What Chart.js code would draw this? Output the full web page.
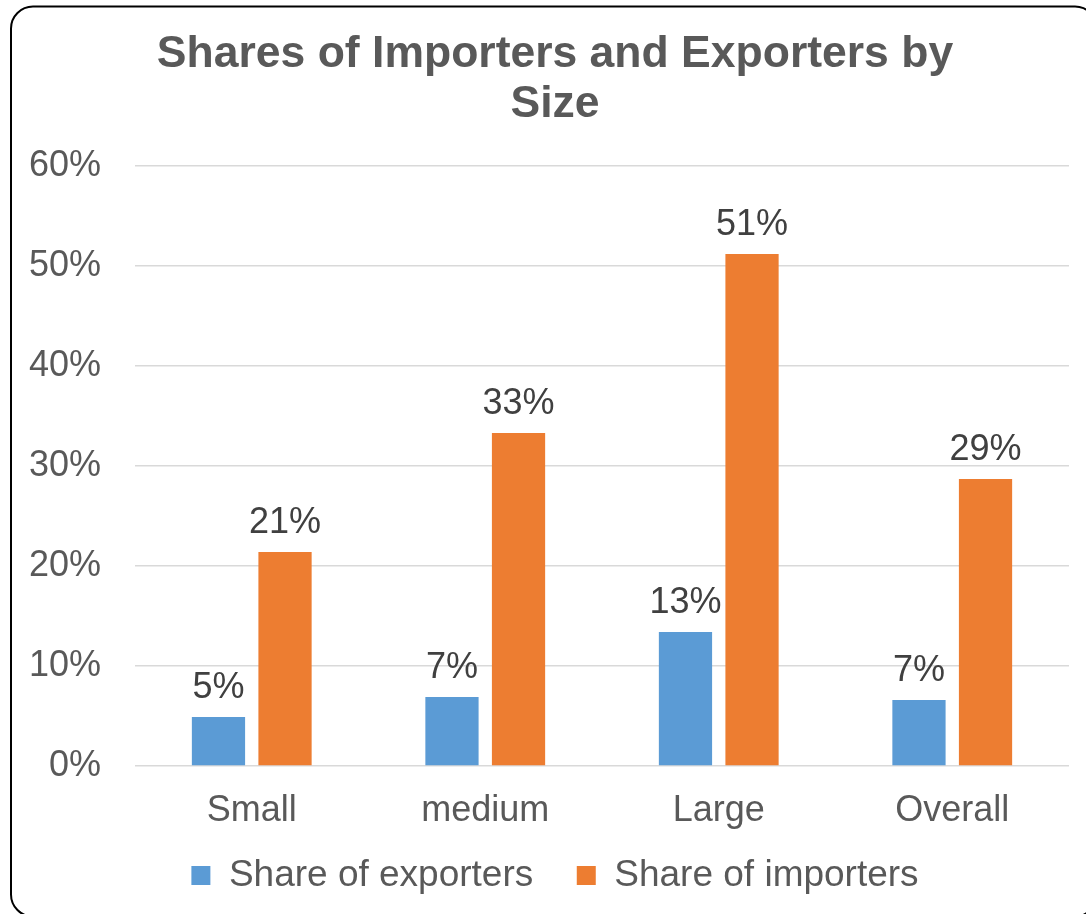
<!DOCTYPE html>
<html>
<head>
<meta charset="utf-8">
<script src="https://cdn.jsdelivr.net/npm/chart.js@4/dist/chart.umd.min.js"></script>
<style>
  html, body { margin: 0; padding: 0; background: #ffffff; overflow: hidden; }
  #wrap { position: relative; width: 1110px; height: 914px; }
  canvas { display: block; }
</style>
</head>
<body>
<div id="wrap"><canvas id="chart" width="1110" height="914"></canvas></div>
<script>
// Firm size groups and the share of firms that trade (percent)
const categories = ['Small', 'medium', 'Large', 'Overall'];
const exporterShares = [4.9, 6.9, 13.4, 6.6];
const importerShares = [21.4, 33.3, 51.2, 28.7];
const seriesNames = ['Share of exporters', 'Share of importers'];
const titleLines = ['Shares of Importers and Exporters by', 'Size'];
const yTickMax = 60;
const yTickStep = 10;

const FONT = '"Liberation Sans", Arial, Helvetica, sans-serif';
Chart.defaults.font.family = FONT;

// White background and the rounded frame around the whole chart
const framePlugin = {
  id: 'frame',
  beforeDraw(chart) {
    const ctx = chart.ctx;
    ctx.save();
    ctx.fillStyle = '#ffffff';
    ctx.fillRect(0, 0, chart.width, chart.height);
    ctx.restore();
  },
  afterDraw(chart) {
    const ctx = chart.ctx;
    ctx.save();
    ctx.strokeStyle = '#000000';
    ctx.lineWidth = 2;
    ctx.beginPath();
    ctx.roundRect(11, 6.5, 1086, 910, 22);
    ctx.stroke();
    ctx.restore();
  }
};

// Value labels above each bar
const valueLabels = {
  id: 'valueLabels',
  afterDatasetsDraw(chart) {
    const ctx = chart.ctx;
    ctx.save();
    ctx.font = '36px ' + FONT;
    ctx.fillStyle = '#404040';
    ctx.textAlign = 'center';
    ctx.textBaseline = 'alphabetic';
    chart.data.datasets.forEach((ds, di) => {
      const meta = chart.getDatasetMeta(di);
      meta.data.forEach((bar, i) => {
        ctx.fillText(Math.round(ds.data[i]) + '%', bar.x, bar.y - 19);
      });
    });
    ctx.restore();
  }
};

// Legend entries, with a little extra room after every entry but the last
function legendLabels(chart) {
  const items = Chart.defaults.plugins.legend.labels.generateLabels(chart);
  items.forEach((item, i) => {
    if (i < items.length - 1) item.text += '\u2002';
  });
  return items;
}

new Chart(document.getElementById('chart'), {
  type: 'bar',
  data: {
    labels: categories,
    datasets: [
      {
        label: seriesNames[0],
        data: exporterShares,
        backgroundColor: '#5B9BD5',
        borderWidth: 0,
        categoryPercentage: 0.57,
        barPercentage: 0.8
      },
      {
        label: seriesNames[1],
        data: importerShares,
        backgroundColor: '#ED7D31',
        borderWidth: 0,
        categoryPercentage: 0.57,
        barPercentage: 0.8
      }
    ]
  },
  options: {
    responsive: false,
    animation: false,
    devicePixelRatio: 1,
    layout: { padding: { top: 0, left: 0, right: 0, bottom: 10 } },
    plugins: {
      tooltip: { enabled: false },
      title: {
        display: true,
        text: titleLines,
        color: '#595959',
        font: { size: 44.5, weight: 'bold', lineHeight: 50 / 44.5 },
        padding: { top: 30, bottom: 36 }
      },
      legend: {
        position: 'bottom',
        labels: {
          color: '#595959',
          font: { size: 37 },
          boxWidth: 19,
          boxHeight: 19,
          padding: 25,
          generateLabels: legendLabels
        }
      }
    },
    scales: {
      x: {
        grid: { display: false, drawTicks: false },
        border: { display: false },
        ticks: {
          color: '#595959',
          font: { size: 36, lineHeight: 1 / 3 },
          padding: 39.5,
          maxRotation: 0
        },
        afterFit(scale) { scale.height = 66; }
      },
      y: {
        min: 0,
        max: yTickMax,
        border: { display: false },
        grid: { color: '#d9d9d9', lineWidth: 1.5, drawTicks: false },
        ticks: {
          stepSize: yTickStep,
          color: '#595959',
          font: { size: 36 },
          padding: 34,
          callback: v => v + '%'
        },
        afterFit(scale) { scale.width = 135; }
      },
      yRight: {
        position: 'right',
        display: true,
        grid: { display: false },
        border: { display: false },
        ticks: { display: false },
        afterFit(scale) { scale.width = 41; }
      }
    }
  },
  plugins: [framePlugin, valueLabels]
});
</script>
</body>
</html>
